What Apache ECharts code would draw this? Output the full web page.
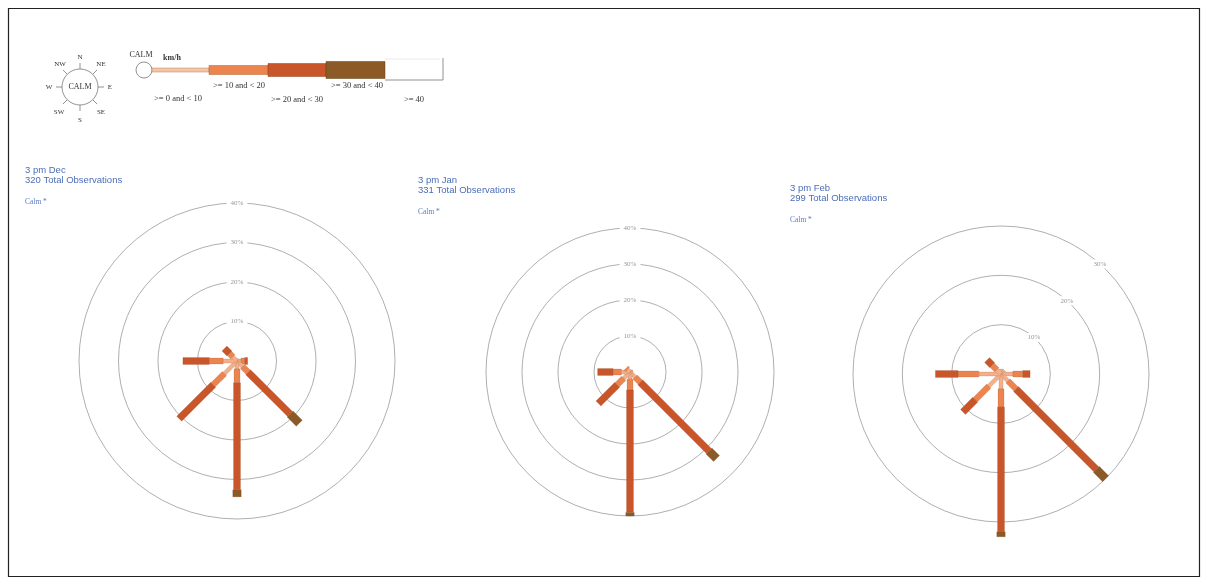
<!DOCTYPE html>
<html>
<head>
<meta charset="utf-8">
<title>Wind roses 3 pm</title>
<script src="https://cdn.jsdelivr.net/npm/echarts@6/dist/echarts.min.js"></script>
<style>
  html, body { margin: 0; padding: 0; background: #fff; }
  #chart { width: 1208px; height: 585px; }
</style>
</head>
<body>
<div id="chart"></div>
<script>
// Directions clockwise from north (degrees)
const directions = ['N', 'NE', 'E', 'SE', 'S', 'SW', 'W', 'NW'];
const directionAngles = [0, 45, 90, 135, 180, 225, 270, 315];
const speedBins = ['>= 0 and < 10', '>= 10 and < 20', '>= 20 and < 30', '>= 30 and < 40', '>= 40'];

// Percent of observations per direction, split by speed bin (km/h)
const decValues = [
    [0.5, 0, 0, 0, 0],
    [0.5, 0, 0, 0, 0],
    [1.0, 0.9, 0.8, 0, 0],
    [2.0, 2.0, 15.0, 3.3, 0],
    [2.0, 3.5, 27.1, 1.8, 0],
    [4.5, 4.0, 12.2, 0, 0],
    [3.5, 3.5, 6.7, 0, 0],
    [1.5, 1.2, 1.8, 0, 0]
];
const janValues = [
    [0.5, 0, 0, 0, 0],
    [0.5, 0, 0, 0, 0],
    [0.8, 0, 0, 0, 0],
    [2.0, 2.0, 27.0, 3.0, 0],
    [2.0, 3.0, 34.0, 1.0, 0],
    [2.5, 2.5, 7.4, 0, 0],
    [2.4, 2.3, 4.3, 0, 0],
    [1.0, 0.5, 0, 0, 0]
];
const febValues = [
    [1.0, 0, 0, 0, 0],
    [1.0, 0, 0, 0, 0],
    [2.4, 2.0, 1.5, 0, 0],
    [2.0, 2.3, 23.0, 2.7, 0],
    [3.0, 3.7, 25.3, 1.0, 0],
    [3.5, 3.9, 3.5, 0, 0],
    [4.5, 4.2, 4.6, 0, 0],
    [1.2, 1.3, 1.5, 0, 0]
];

const panelTitles = ['3 pm Dec', '3 pm Jan', '3 pm Feb'];
const panelObservations = [320, 331, 299];
const panelRingMax = [40, 40, 30];
const ringTicks = [10, 20, 30, 40];

const binColors = ['#f4b08a', '#ec8450', '#c9562a', '#8c5a26', '#ffffff'];
const binWidths = [4, 6, 7, 8.5, 9];

// layout of the three roses
const panels = [
    { center: [237, 361], radius: 158, labelAngle: 0, titleLeft: 25, titleTop: 165 },
    { center: [630, 372], radius: 144, labelAngle: 0, titleLeft: 418, titleTop: 175 },
    { center: [1001, 374], radius: 148, labelAngle: 42, titleLeft: 790, titleTop: 183 }
];

function toBarData(values) {
    const out = [];
    values.forEach(function(row, d) {
        let start = 0;
        row.forEach(function(v, b) {
            if (v > 0) {
                out.push([directionAngles[d], start, start + v, b]);
                start += v;
            }
        });
    });
    return out;
}

function renderBar(params, api) {
    const ang = api.value(0);
    const p0 = api.coord([api.value(1), ang]);
    const p1 = api.coord([api.value(2), ang]);
    const bin = api.value(3);
    const dx = p1[0] - p0[0], dy = p1[1] - p0[1];
    const len = Math.sqrt(dx * dx + dy * dy);
    if (len < 0.01) return null;
    const hw = binWidths[bin] / 2;
    const nx = -dy / len * hw, ny = dx / len * hw;
    return {
        type: 'polygon',
        shape: { points: [
            [p0[0] + nx, p0[1] + ny], [p1[0] + nx, p1[1] + ny],
            [p1[0] - nx, p1[1] - ny], [p0[0] - nx, p0[1] - ny]
        ] },
        style: { fill: binColors[bin], stroke: 'rgba(120,60,20,0.3)', lineWidth: 0.5 }
    };
}

function makeRingLabelRenderer(angle) {
    return function(params, api) {
        const p = api.coord([api.value(0), angle]);
        return {
            type: 'text',
            x: p[0], y: p[1],
            style: {
                text: api.value(0) + '%',
                fill: '#999', font: '7px "Liberation Serif", serif',
                align: 'center', verticalAlign: 'middle',
                backgroundColor: '#fff', padding: [1, 4]
            }
        };
    };
}

const allValues = [decValues, janValues, febValues];

const polar = [], angleAxis = [], radiusAxis = [], series = [], titles = [];
panels.forEach(function(p, i) {
    polar.push({ center: p.center, radius: p.radius });
    angleAxis.push({
        polarIndex: i, type: 'value', min: 0, max: 360, startAngle: 90, clockwise: true,
        axisLine: { show: false }, axisTick: { show: false }, axisLabel: { show: false },
        splitLine: { show: false }
    });
    radiusAxis.push({
        polarIndex: i, type: 'value', min: 0, max: panelRingMax[i], interval: 10,
        axisLine: { show: false }, axisTick: { show: false }, axisLabel: { show: false },
        splitLine: { show: true, lineStyle: { color: '#9a9a9a', width: 0.8 } }
    });
    series.push({
        type: 'custom', coordinateSystem: 'polar', polarIndex: i,
        renderItem: makeRingLabelRenderer(p.labelAngle),
        data: ringTicks.filter(function(t) { return t <= panelRingMax[i]; }).map(function(t) { return [t, p.labelAngle]; }),
        encode: { radius: 0, angle: 1 },
        silent: true, z: 3
    });
    series.push({
        type: 'custom', coordinateSystem: 'polar', polarIndex: i,
        renderItem: renderBar,
        data: toBarData(allValues[i]),
        encode: { radius: [1, 2], angle: 0 },
        z: 5
    });
    titles.push({
        text: panelTitles[i] + '\n' + panelObservations[i] + ' Total Observations',
        left: p.titleLeft, top: p.titleTop, padding: 0,
        textStyle: { fontSize: 9.5, fontWeight: 'normal', color: '#4a6db8', fontFamily: '"Liberation Sans", Arial, sans-serif', lineHeight: 10 }
    });
    titles.push({
        text: 'Calm *',
        left: p.titleLeft, top: p.titleTop + 33, padding: 0,
        textStyle: { fontSize: 7.5, fontWeight: 'normal', color: '#5a7cc0', fontFamily: '"Liberation Serif", serif' }
    });
});

// legend graphics (compass key and speed key)
const serif = '"Liberation Serif", "DejaVu Serif", serif';
function txt(x, y, s, size, weight, align) {
    return { type: 'text', x: x, y: y, style: { text: s, fill: '#333', font: (weight || 'normal') + ' ' + (size || 8) + 'px ' + serif, align: align || 'center', verticalAlign: 'middle' } };
}
function ln(x1, y1, x2, y2) {
    return { type: 'line', shape: { x1: x1, y1: y1, x2: x2, y2: y2 }, style: { stroke: '#777', lineWidth: 0.8 } };
}
const cx = 80, cy = 87;
const compass = [
    { type: 'circle', shape: { cx: cx, cy: cy, r: 18 }, style: { fill: '#fff', stroke: '#777', lineWidth: 0.8 } },
    txt(cx, cy, 'CALM', 8),
    ln(cx, 69, cx, 63), txt(cx, 57, 'N', 7),
    ln(93, 74, 97, 70), txt(101, 64, 'NE', 7),
    ln(98, 87, 104, 87), txt(110, 87, 'E', 7),
    ln(93, 100, 97, 104), txt(101, 112, 'SE', 7),
    ln(cx, 105, cx, 111), txt(cx, 120, 'S', 7),
    ln(67, 100, 63, 104), txt(59, 112, 'SW', 7),
    ln(62, 87, 56, 87), txt(49, 87, 'W', 7),
    ln(67, 74, 63, 70), txt(60, 64, 'NW', 7)
];
const speedKey = [
    txt(141, 55, 'CALM', 8),
    { type: 'circle', shape: { cx: 144, cy: 70, r: 8 }, style: { fill: '#fff', stroke: '#777', lineWidth: 0.8 } },
    txt(172, 58, 'km/h', 8, 'bold'),
    { type: 'rect', shape: { x: 152, y: 68, width: 57, height: 4 }, style: { fill: '#f6c6a4', stroke: '#b08060', lineWidth: 0.5 } },
    { type: 'rect', shape: { x: 209, y: 65.5, width: 59, height: 9 }, style: { fill: binColors[1], stroke: '#b06030', lineWidth: 0.5 } },
    { type: 'rect', shape: { x: 268, y: 63.5, width: 58, height: 13 }, style: { fill: binColors[2], stroke: '#904020', lineWidth: 0.5 } },
    { type: 'rect', shape: { x: 326, y: 61.5, width: 59, height: 17 }, style: { fill: binColors[3], stroke: '#604010', lineWidth: 0.5 } },
    { type: 'polyline', shape: { points: [[385, 80], [443, 80], [443, 58]] }, style: { stroke: '#777', lineWidth: 0.8, fill: null } },
    { type: 'line', shape: { x1: 385, y1: 59, x2: 440, y2: 59 }, style: { stroke: '#ddd', lineWidth: 0.6 } },
    txt(178, 99, speedBins[0], 8.5),
    txt(239, 86, speedBins[1], 8.5),
    txt(297, 100, speedBins[2], 8.5),
    txt(357, 86, speedBins[3], 8.5),
    txt(414, 100, speedBins[4], 8.5)
];

const chart = echarts.init(document.getElementById('chart'));
chart.setOption({
    animation: false,
    backgroundColor: '#fff',
    title: titles,
    polar: polar,
    angleAxis: angleAxis,
    radiusAxis: radiusAxis,
    series: series,
    graphic: [
        { type: 'rect', shape: { x: 8.5, y: 8.5, width: 1191, height: 568 }, style: { fill: null, stroke: '#222', lineWidth: 1.2 }, z: 100 }
    ].concat(compass, speedKey)
});
</script>
</body>
</html>
